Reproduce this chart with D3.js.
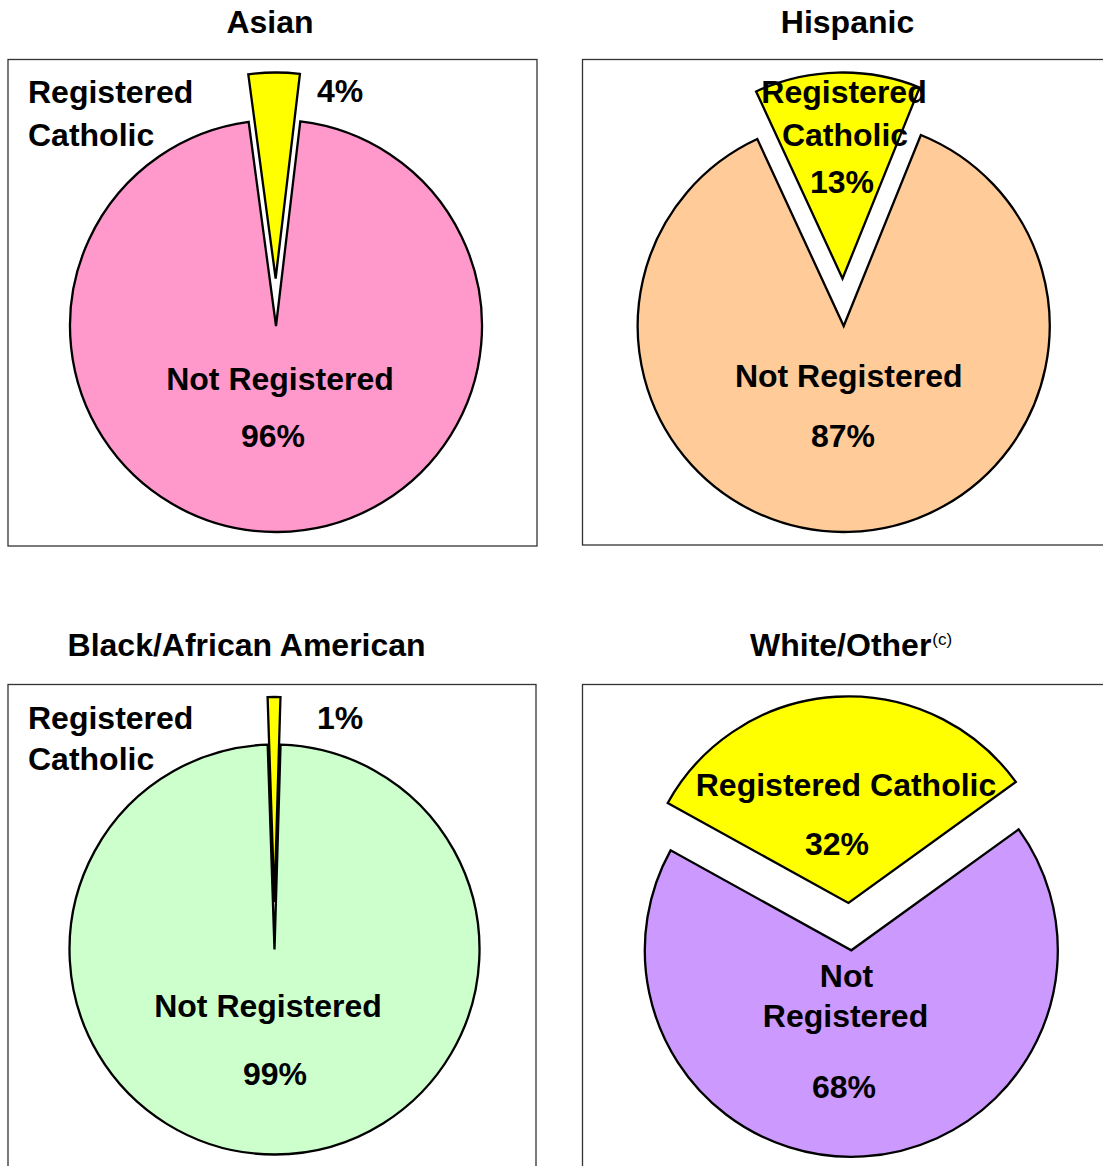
<!DOCTYPE html>
<html>
<head>
<meta charset="utf-8">
<script src="https://cdn.jsdelivr.net/npm/d3@7/dist/d3.min.js"></script>
<style>
  body { margin: 0; background: #fff; }
  text { font-family: "Liberation Sans", Arial, sans-serif; font-weight: bold; fill: #000; }
</style>
</head>
<body>
<div id="chart"></div>
<script>
// data
var titles = ["Asian", "Hispanic", "Black/African American", "White/Other"];
var sliceNames = ["Registered Catholic", "Not Registered"];
var registeredPct = [4, 13, 1, 32];
var notRegisteredPct = [96, 87, 99, 68];
var pieColors = ["#FF99CC", "#FFCC99", "#CCFFCC", "#CC99FF"];
var registeredColor = "#FFFF00";

var W = 1103, H = 1166;
var fontSize = 32;
var explode = 47.5;

var regWords = sliceNames[0].split(" ");
var notWords = sliceNames[1].split(" ");

// layout of each panel: frame box, pie centre and radius, title and label spots
var panels = [
  { frame: [8, 59.5, 529, 486.5], cx: 276, cy: 326, r: 206, title: [270, 32.5, "middle"],
    labels: [[regWords[0], 28, 103, "start"], [regWords[1], 28, 145.5, "start"],
             ["reg", 317, 102, "start"],
             [sliceNames[1], 280, 390, "middle"], ["not", 273, 446.5, "middle"]] },
  { frame: [582.5, 59.5, 529, 485.5], cx: 843.7, cy: 326, r: 206, title: [847.5, 32.5, "middle"],
    labels: [[regWords[0], 844, 103, "middle"], [regWords[1], 845, 146, "middle"],
             ["reg", 842, 192.5, "middle"],
             [sliceNames[1], 848.7, 387, "middle"], ["not", 843, 447, "middle"]] },
  { frame: [8, 684.5, 528, 490], cx: 274.5, cy: 949.5, r: 205, title: [246.6, 656, "middle"],
    labels: [[regWords[0], 28, 729, "start"], [regWords[1], 28, 770, "start"],
             ["reg", 317, 729, "start"],
             [sliceNames[1], 268, 1017, "middle"], ["not", 275, 1085, "middle"]] },
  { frame: [582.5, 684.5, 529, 490], cx: 851.3, cy: 950.3, r: 206.5, title: [750, 656, "start"],
    labels: [[sliceNames[0], 846, 796, "middle"], ["reg", 837, 855, "middle"],
             [notWords[0], 846.5, 986.5, "middle"], [notWords[1], 845.5, 1027, "middle"],
             ["not", 844, 1098, "middle"]] }
];

var svg = d3.select("#chart").append("svg")
    .attr("width", W)
    .attr("height", H);

panels.forEach(function(p, i) {
    var g = svg.append("g");

    // frame
    g.append("rect")
        .attr("x", p.frame[0])
        .attr("y", p.frame[1])
        .attr("width", p.frame[2])
        .attr("height", p.frame[3])
        .attr("fill", "none")
        .attr("stroke", "#333")
        .attr("stroke-width", 1.3);

    // title
    var t = g.append("text")
        .attr("x", p.title[0])
        .attr("y", p.title[1])
        .attr("text-anchor", p.title[2])
        .attr("font-size", fontSize)
        .text(titles[i]);
    if (i == 3) {
        t.append("tspan")
            .attr("dx", 1)
            .attr("dy", -11)
            .attr("font-size", 17)
            .attr("font-weight", "normal")
            .text("(c)");
    }

    // pie: yellow slice sits at the top, a bit left of centre
    var vals = [registeredPct[i], notRegisteredPct[i]];
    var regAngle = vals[0] / (vals[0] + vals[1]) * 2 * Math.PI;
    var a0 = -0.53 * regAngle;
    var pie = d3.pie().sort(null).startAngle(a0).endAngle(a0 + 2 * Math.PI);
    var arc = d3.arc().innerRadius(0).outerRadius(p.r);
    var slices = pie(vals);

    var pg = g.append("g").attr("transform", "translate(" + p.cx + "," + p.cy + ")");

    // not registered (draw first)
    pg.append("path")
        .attr("d", arc(slices[1]))
        .attr("fill", pieColors[i])
        .attr("stroke", "#000")
        .attr("stroke-width", 2.3)
        .attr("stroke-linejoin", "miter");

    // registered, pulled out along its middle
    var mid = (slices[0].startAngle + slices[0].endAngle) / 2;
    var dx = explode * Math.sin(mid), dy = -explode * Math.cos(mid);
    pg.append("path")
        .attr("d", arc(slices[0]))
        .attr("transform", "translate(" + dx + "," + dy + ")")
        .attr("fill", registeredColor)
        .attr("stroke", "#000")
        .attr("stroke-width", 2.3)
        .attr("stroke-linejoin", "miter");

    // labels
    p.labels.forEach(function(l) {
        var s = l[0];
        if (s == "reg") s = registeredPct[i] + "%";
        if (s == "not") s = notRegisteredPct[i] + "%";
        g.append("text")
            .attr("x", l[1])
            .attr("y", l[2])
            .attr("text-anchor", l[3])
            .attr("font-size", fontSize)
            .text(s);
    });
});
</script>
</body>
</html>
